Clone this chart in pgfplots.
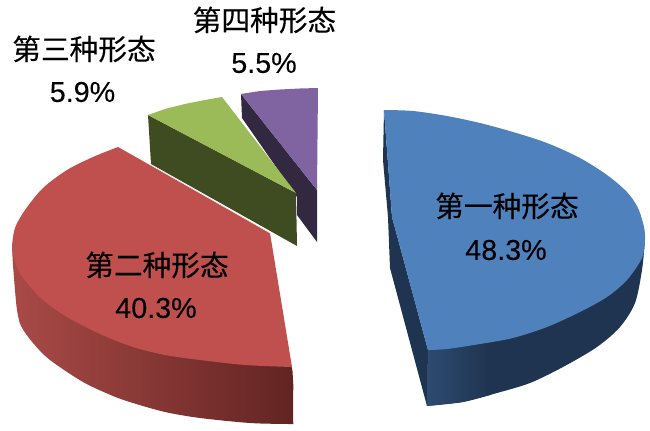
\documentclass[border=0pt]{standalone}
\usepackage{fontspec}
\setmainfont[FakeBold=0.12]{Liberation Sans}
\newfontfamily\cjk[FakeBold=0.25]{Noto Sans CJK SC}
\usepackage{pgfplots}
\pgfplotsset{compat=1.18}
\definecolor{bluetop}{HTML}{4F81BD}
\definecolor{blueside}{HTML}{1F3450}
\definecolor{blueedge}{HTML}{2D4B70}
\definecolor{redtop}{HTML}{C0504D}
\definecolor{redleft}{HTML}{A94A47}
\definecolor{redright}{HTML}{622422}
\definecolor{greentop}{HTML}{9BBB59}
\definecolor{greenside}{HTML}{3F4C21}
\definecolor{purpletop}{HTML}{8064A2}
\definecolor{purpleside}{HTML}{32283F}
\newcommand{\lab}[3]{\node[align=center,inner sep=0pt,font=\fontsize{28.8}{28.8}\selectfont] at (axis cs:#1,#2) {#3};}
\begin{document}
\begin{tikzpicture}
\useasboundingbox (0,0) rectangle (650bp,431bp);
\begin{axis}[
    scale only axis,
    width=650bp, height=431bp,
    xmin=0, xmax=650, ymin=0, ymax=431,
    y dir=reverse,
    hide axis,
    every axis plot/.append style={draw=none, mark=none, line join=round},
]
% fourth slice
\addplot[fill=purpleside] coordinates {(241,94)(317,190)(317,242)(297,215)(297,197)(242,118)};
\addplot[fill=purpletop] coordinates {(241,94)(260,91)(280,89.5)(300,88.5)(318,88)(317,190)};
% third slice
\addplot[fill=greenside] coordinates {(148,115)(151,164)(297,246)(296,193)};
\addplot[fill=greentop] coordinates {(148,115)(165,109)(185,104)(205,100)(222,97)(296,193)};
% second slice
\addplot[left color=redleft, right color=redright, smooth] coordinates {
  (12,247)(13,265)(15,290)(17,310)(21,326)(33,343)(50,360)(83,382)(113,396)(133,403)
  (165,412)(200,418)(250,423)(288,424)(293,424)(293.2,421)(293,400)(293,380)(288,360)(250,320)(150,280)};
\addplot[fill=redtop] coordinates {(118,147)(170,270)(292,367)(270,233)};
\addplot[fill=redtop, smooth] coordinates {
  (118,147)(93,157)(67,170)(43,188)(25,210)(15,228)(12,247)(14,258)(18,270)(27,283)(43,300)(67,317)
  (100,334)(133,347)(165,355)(200,360)(245,365)(292,367)};
\addplot[draw=gray!25, line width=0.6pt] coordinates {(151,165)(270,233)};
% first slice
\addplot[fill=blueside] coordinates {
  (384,110)(383,160)(388,217)(390,268)(427,406)(428,350)(392,217)(387,150)};
\addplot[fill=blueside, smooth] coordinates {
  (427,406)(463,402)(497,393)(530,383)(563,367)(597,347)(620,327)(635,303)(642,270)(645,240)};
\addplot[fill=blueside] coordinates {(428,350)(427,406)(560,340)(500,320)};
\addplot[left color=blueedge, right color=blueside] coordinates {(428,350)(427,406)(463,402)(490,395)(490,340)};
\addplot[fill=bluetop] coordinates {(384,110)(450,230)(428,350)(392,217)};
\addplot[fill=bluetop, smooth] coordinates {
  (384,110)(413,111)(447,116)(480,123)(513,132)(547,143)(580,158)(607,175)(627,192)(638,208)
  (644,227)(645,240)(642,258)(627,280)(607,297)(580,312)(547,327)(513,338)(480,344)(447,349)(428,350)};
% labels
\lab{507}{206}{\cjk 第一种形态}
\lab{506}{250}{48.3\%}
\lab{157}{265}{\cjk 第二种形态}
\lab{156}{308}{40.3\%}
\lab{84}{49}{\cjk 第三种形态}
\lab{82.5}{92}{5.9\%}
\lab{264.5}{20}{\cjk 第四种形态}
\lab{264}{63}{5.5\%}
\end{axis}
\end{tikzpicture}
\end{document}
